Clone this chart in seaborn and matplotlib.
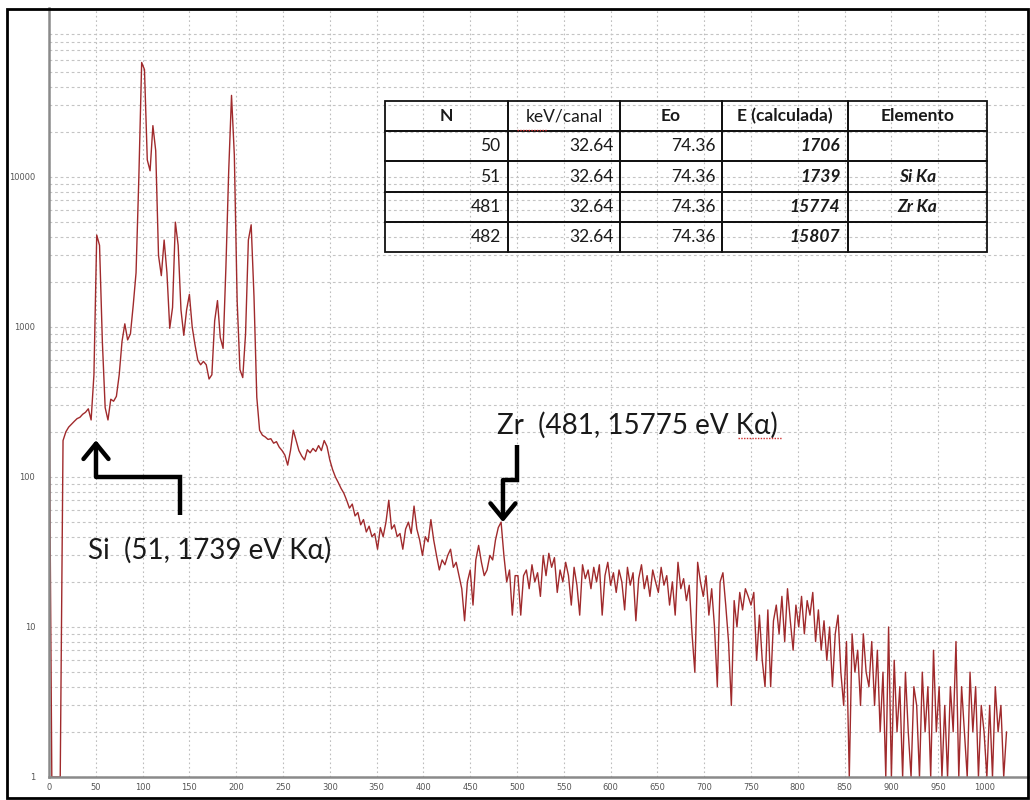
import numpy as np
import pandas as pd
import matplotlib
matplotlib.use("Agg")
import matplotlib.pyplot as plt
import matplotlib.ticker as mticker
from matplotlib.lines import Line2D
from matplotlib.patches import Rectangle
import seaborn as sns

# ---------------- data ----------------
channels = list(range(0, 1024, 3))
counts = [
    550, 1, 1, 1, 1, 175, 200, 215, 225, 235,
    245, 250, 262, 270, 285, 240, 480, 4100, 3500, 800,
    290, 240, 330, 320, 345, 480, 800, 1050, 820, 900,
    1400, 2300, 10000, 58000, 52000, 13000, 11000, 22000, 15000, 3000,
    2200, 3800, 2300, 980, 1350, 5000, 3500, 1300, 880, 1300,
    1650, 1000, 760, 600, 560, 590, 560, 450, 480, 1100,
    1500, 850, 720, 2500, 11000, 35000, 14000, 1500, 520, 460,
    900, 3800, 4800, 1600, 340, 205, 190, 185, 178, 180,
    168, 172, 158, 150, 140, 120, 150, 205, 175, 150,
    138, 130, 152, 145, 155, 148, 162, 150, 175, 160,
    130, 112, 100, 92, 84, 78, 70, 62, 66, 55,
    58, 48, 52, 43, 47, 40, 42, 33, 46, 40,
    50, 70, 45, 48, 40, 42, 33, 45, 50, 42,
    64, 45, 38, 30, 40, 37, 52, 38, 30, 24,
    28, 26, 30, 33, 25, 27, 22, 18, 11, 20,
    24, 14, 28, 35, 27, 22, 24, 30, 28, 38,
    46, 50, 30, 20, 24, 12, 22, 22, 12, 22,
    24, 18, 26, 20, 23, 16, 30, 22, 31, 25,
    29, 17, 24, 20, 27, 22, 14, 25, 19, 12,
    26, 21, 24, 18, 25, 20, 26, 12, 22, 27,
    19, 23, 17, 24, 20, 13, 25, 19, 23, 11,
    21, 26, 18, 22, 16, 24, 20, 17, 25, 19,
    22, 14, 20, 12, 27, 18, 21, 15, 19, 9,
    5, 27, 20, 16, 22, 12, 18, 10, 4, 20,
    23, 14, 8, 3, 15, 10, 17, 13, 18, 16,
    14, 17, 6, 12, 6, 4, 13, 4, 11, 14,
    9, 16, 8, 18, 11, 7, 14, 10, 16, 9,
    15, 12, 17, 8, 13, 7, 11, 6, 10, 4,
    9, 12, 5, 3, 8, 1, 9, 5, 7, 3,
    9, 5, 4, 8, 3, 7, 2, 5, 1, 10,
    1, 6, 2, 4, 1, 5, 2, 1, 4, 3,
    1, 5, 2, 4, 1, 7, 2, 4, 1, 3,
    1, 4, 2, 8, 1, 4, 2, 1, 5, 2,
    4, 1, 3, 2, 1, 3, 1, 4, 2, 3,
    1, 2,
]

table_cols = ["N", "keV/canal", "Eo", "E (calculada)", "Elemento"]
table_n = ["50", "51", "481", "482"]
table_kev = ["32.64", "32.64", "32.64", "32.64"]
table_eo = ["74.36", "74.36", "74.36", "74.36"]
table_e = ["1706", "1739", "15774", "15807"]
table_el = ["", "Si Ka", "Zr Ka", ""]

x_ticks = list(range(0, 1001, 50))
y_ticks = [1, 10, 100, 1000, 10000]
y_tick_labels = ["1", "10", "100", "1000", "10000"]

si_label = "Si  (51, 1739 eV K\u03b1)"
zr_label = "Zr  (481, 15775 eV K\u03b1)"

# ---------------- style ----------------
sns.set_style("white")
plt.rcParams["font.family"] = ["Lato", "DejaVu Sans"]

W, H = 1030, 800
fig = plt.figure(figsize=(W / 100, H / 100), dpi=100)
fig.patch.set_facecolor("white")

# axes: x from px 49 to 1028, y from px 8 (top) to 777 (value 1)
ax = fig.add_axes([49 / W, (H - 777) / H, 979 / W, 769 / H])
ax.set_yscale("log")

df = pd.DataFrame({"channel": channels, "counts": counts})
sns.lineplot(data=df, x="channel", y="counts", ax=ax, color="#a02a2c",
             linewidth=1.0, estimator=None, zorder=2)

ax.set_xlim(0, 979 / 0.936)
ax.set_ylim(1, 10 ** (769 / 150))
ax.set_xlabel("")
ax.set_ylabel("")

ax.xaxis.set_major_locator(mticker.FixedLocator(x_ticks))
ax.set_xticklabels([str(t) for t in x_ticks])
ax.yaxis.set_major_locator(mticker.FixedLocator(y_ticks))
ax.yaxis.set_major_formatter(mticker.FixedFormatter(y_tick_labels))
ax.yaxis.set_minor_locator(mticker.LogLocator(base=10, subs=np.arange(2, 10), numticks=20))
ax.yaxis.set_minor_formatter(mticker.NullFormatter())

ax.tick_params(axis="x", which="both", length=0, pad=4, labelsize=6,
               labelcolor="#555555")
ax.tick_params(axis="y", which="major", length=4, width=0.8, color="#888888",
               pad=6, labelsize=6, labelcolor="#555555")
ax.tick_params(axis="y", which="minor", length=3, width=0.6, color="#bbbbbb")
for lab in ax.get_xticklabels() + ax.get_yticklabels():
    lab.set_family("DejaVu Sans")

ax.grid(True, axis="x", which="major", linestyle=(0, (1.5, 2.5)),
        color="#bdbdbd", linewidth=0.8, zorder=0)
ax.grid(True, axis="y", which="both", linestyle=(0, (2.5, 2.5)),
        color="#c4c4c4", linewidth=0.8, zorder=0)
ax.set_axisbelow(True)

for side in ("top", "right"):
    ax.spines[side].set_visible(False)
for side in ("left", "bottom"):
    ax.spines[side].set_color("#8a8a8a")
    ax.spines[side].set_linewidth(1.8)
    ax.spines[side].set_zorder(2.5)

# ---------------- table ----------------
cell_text = [[table_n[i], table_kev[i], table_eo[i], table_e[i], table_el[i]]
             for i in range(len(table_n))]
tb_x0 = (385 - 49) / 979
tb_w = (987 - 385) / 979
tb_y0 = (777 - 252) / 769
tb_h = (252 - 101) / 769
col_w = [123, 112, 102, 126, 139]
tbl = ax.table(cellText=cell_text, colLabels=table_cols,
               colWidths=[c / sum(col_w) for c in col_w],
               bbox=[tb_x0, tb_y0, tb_w, tb_h], zorder=6)
tbl.auto_set_font_size(False)
tbl.set_fontsize(12.5)
for (r, c), cell in tbl.get_celld().items():
    cell.set_facecolor("none")
    cell.set_edgecolor("#111111")
    cell.set_linewidth(1.3)
    cell.PAD = 0.06
    txt = cell.get_text()
    txt.set_color("#1a1a1a")
    if r == 0:
        cell._loc = "center"
        txt.set_ha("center")
        if c != 1:
            txt.set_fontweight("bold")
    else:
        if c == 4:
            cell._loc = "center"
            txt.set_ha("center")
            txt.set_fontweight("bold")
            txt.set_fontstyle("italic")
        else:
            cell._loc = "right"
            txt.set_ha("right")
            if c == 3:
                txt.set_fontweight("bold")
                txt.set_fontstyle("italic")

# ---------------- annotations ----------------
ax.text(41.7, 32.6, si_label, fontsize=20, color="#1a1a1a", va="center",
        ha="left", zorder=7, family=["Lato", "DejaVu Sans"])
ax.text(478.6, 222, zr_label, fontsize=20, color="#1a1a1a", va="center",
        ha="left", zorder=7, family=["Lato", "DejaVu Sans"])

arrow_kw = dict(arrowstyle="->,head_length=0.55,head_width=0.45", lw=3.2,
                color="black", mutation_scale=20, shrinkA=0, shrinkB=0)
# Si arrow (elbow, pointing up)
ax.plot([140, 140, 50.2], [55.8, 100, 100], color="black", lw=3.2,
        solid_capstyle="butt", solid_joinstyle="miter", zorder=7)
ax.annotate("", xy=(50.2, 176), xytext=(50.2, 100), arrowprops=arrow_kw, zorder=7)
# Zr arrow (elbow, pointing down)
ax.plot([500, 500, 485], [163, 95.5, 95.5], color="black", lw=3.2,
        solid_capstyle="butt", solid_joinstyle="miter", zorder=7)
ax.annotate("", xy=(485, 50), xytext=(485, 95.5), arrowprops=arrow_kw, zorder=7)

# spell-check style wavy marks (as in the screenshot)
fig.add_artist(Line2D([517 / W, 547 / W], [1 - 130 / H, 1 - 130 / H],
                      color="#d03030", lw=1.0, linestyle=(0, (1, 1))))
fig.add_artist(Line2D([738 / W, 782 / W], [1 - 438 / H, 1 - 438 / H],
                      color="#d03030", lw=1.0, linestyle=(0, (1, 1))))

# outer border of the screenshot
fig.add_artist(Rectangle((7 / W, 2 / H), (1028 - 7) / W, (798 - 9) / H,
                         fill=False, edgecolor="black", lw=2.0))

fig.savefig("out.png", dpi=100)
